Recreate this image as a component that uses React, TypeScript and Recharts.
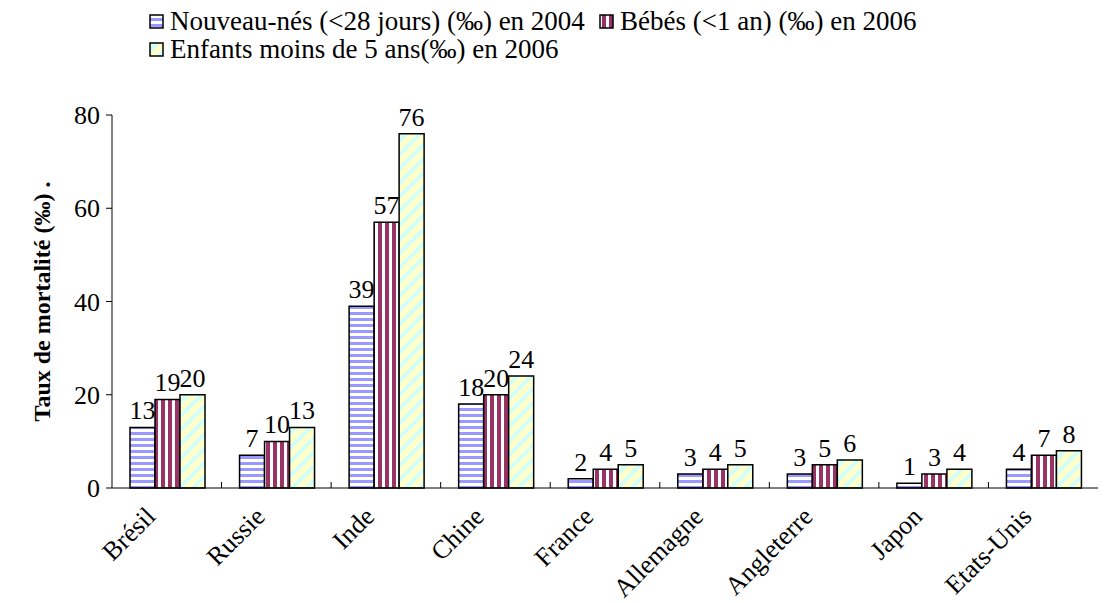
import { BarChart, Bar, XAxis, YAxis, LabelList, Label } from 'recharts'

const pays = ['Brésil', 'Russie', 'Inde', 'Chine', 'France', 'Allemagne', 'Angleterre', 'Japon', 'Etats-Unis']
const nouveauNes = [13, 7, 39, 18, 2, 3, 3, 1, 4]
const bebes = [19, 10, 57, 20, 4, 4, 5, 3, 7]
const enfants = [20, 13, 76, 24, 5, 5, 6, 4, 8]
const yTicks = [0, 20, 40, 60, 80]

const series = [
	{ key: 'nn', name: 'Nouveau-nés (<28 jours) (‰) en 2004', fill: 'url(#pat-h)' },
	{ key: 'bb', name: 'Bébés (<1 an) (‰) en 2006', fill: 'url(#pat-v)' },
	{ key: 'en', name: 'Enfants moins de 5 ans(‰) en 2006', fill: 'url(#pat-d)' },
]

const data = pays.map((p, i) => ({ pays: p, nn: nouveauNes[i], bb: bebes[i], en: enfants[i] }))

const FONT = 'Liberation Serif'
const txt = (size: number, extra = {}) => ({ fontFamily: FONT, fontSize: size, fill: '#000', ...extra })
const AXIS_Y = 488

const Patterns = () => (
	<defs>
		<pattern id="pat-h" width={6} height={6} patternUnits="userSpaceOnUse">
			<rect width={6} height={6} fill="#fff" />
			<rect width={6} height={3} fill="#9999ff" />
		</pattern>
		<pattern id="pat-v" width={7} height={7} patternUnits="userSpaceOnUse">
			<rect width={7} height={7} fill="#fff" />
			<rect width={4} height={7} fill="#993366" />
		</pattern>
		<pattern id="pat-d" width={10} height={10} patternUnits="userSpaceOnUse" patternTransform="rotate(45)">
			<rect width={10} height={10} fill="#ffffcc" />
			<rect width={3.5} height={10} fill="#ccffff" />
		</pattern>
	</defs>
)

// tick label + small tick mark at the right boundary of each category
const XTick = (props: any) => {
	const { x, payload } = props
	const off = payload.offset || 0
	const tx = x - 10
	const ty = AXIS_Y + 30
	return (
		<g>
			{payload.index < pays.length - 1 && (
				<line x1={x + off} x2={x + off} y1={AXIS_Y} y2={AXIS_Y - 6} stroke="#000" />
			)}
			<text x={tx} y={ty} textAnchor="end" style={txt(26)} transform={`rotate(-45, ${tx}, ${ty})`}>
				{payload.value}
			</text>
		</g>
	)
}

const YTick = (props: any) => {
	const { x, y, payload } = props
	return (
		<text x={x} y={y} dy={9} textAnchor="end" style={txt(26)}>
			{payload.value}
		</text>
	)
}

const Legende = () => (
	<svg width={1117} height={70} style={{ position: 'absolute', left: 0, top: 0 }}>
		{series.map((s, i) => {
			const x = i === 1 ? 600 : 150
			const y = i === 2 ? 50 : 22
			return (
				<g key={s.key}>
					<rect x={x} y={y - 7} width={13} height={13} fill={s.fill} stroke="#000" strokeWidth={1.5} />
					<text x={x + 20} y={y + 8} style={txt(27)}>
						{s.name}
					</text>
				</g>
			)
		})}
	</svg>
)

export default function App() {
	return (
		<div style={{ position: 'absolute', left: 0, top: 0, width: 1117, height: 603, background: '#fff', fontFamily: FONT }}>
			<svg width={0} height={0} style={{ position: 'absolute' }}>
				<Patterns />
			</svg>
			<BarChart
				width={1117}
				height={603}
				data={data}
				margin={{ top: 115, right: 19, bottom: 0, left: 0 }}
				barGap={0}
				barCategoryGap={18}>
				<XAxis dataKey="pays" height={115} stroke="#000" tickLine={false} tick={<XTick />} interval={0} />
				<YAxis
					width={112}
					domain={[0, 80]}
					ticks={yTicks}
					stroke="#000"
					tickSize={6}
					tick={<YTick />}
					tickMargin={6}>
					<Label
						value="Taux de mortalité (‰) ."
						angle={-90}
						position="insideLeft"
						dx={36}
						style={txt(24, { fontWeight: 'bold', textAnchor: 'middle' })}
					/>
				</YAxis>
				{series.map((s) => (
					<Bar key={s.key} dataKey={s.key} name={s.name} fill={s.fill} stroke="#000" strokeWidth={1.5} isAnimationActive={false}>
						<LabelList dataKey={s.key} position="top" offset={8} style={txt(26)} />
					</Bar>
				))}
			</BarChart>
			<Legende />
		</div>
	)
}
